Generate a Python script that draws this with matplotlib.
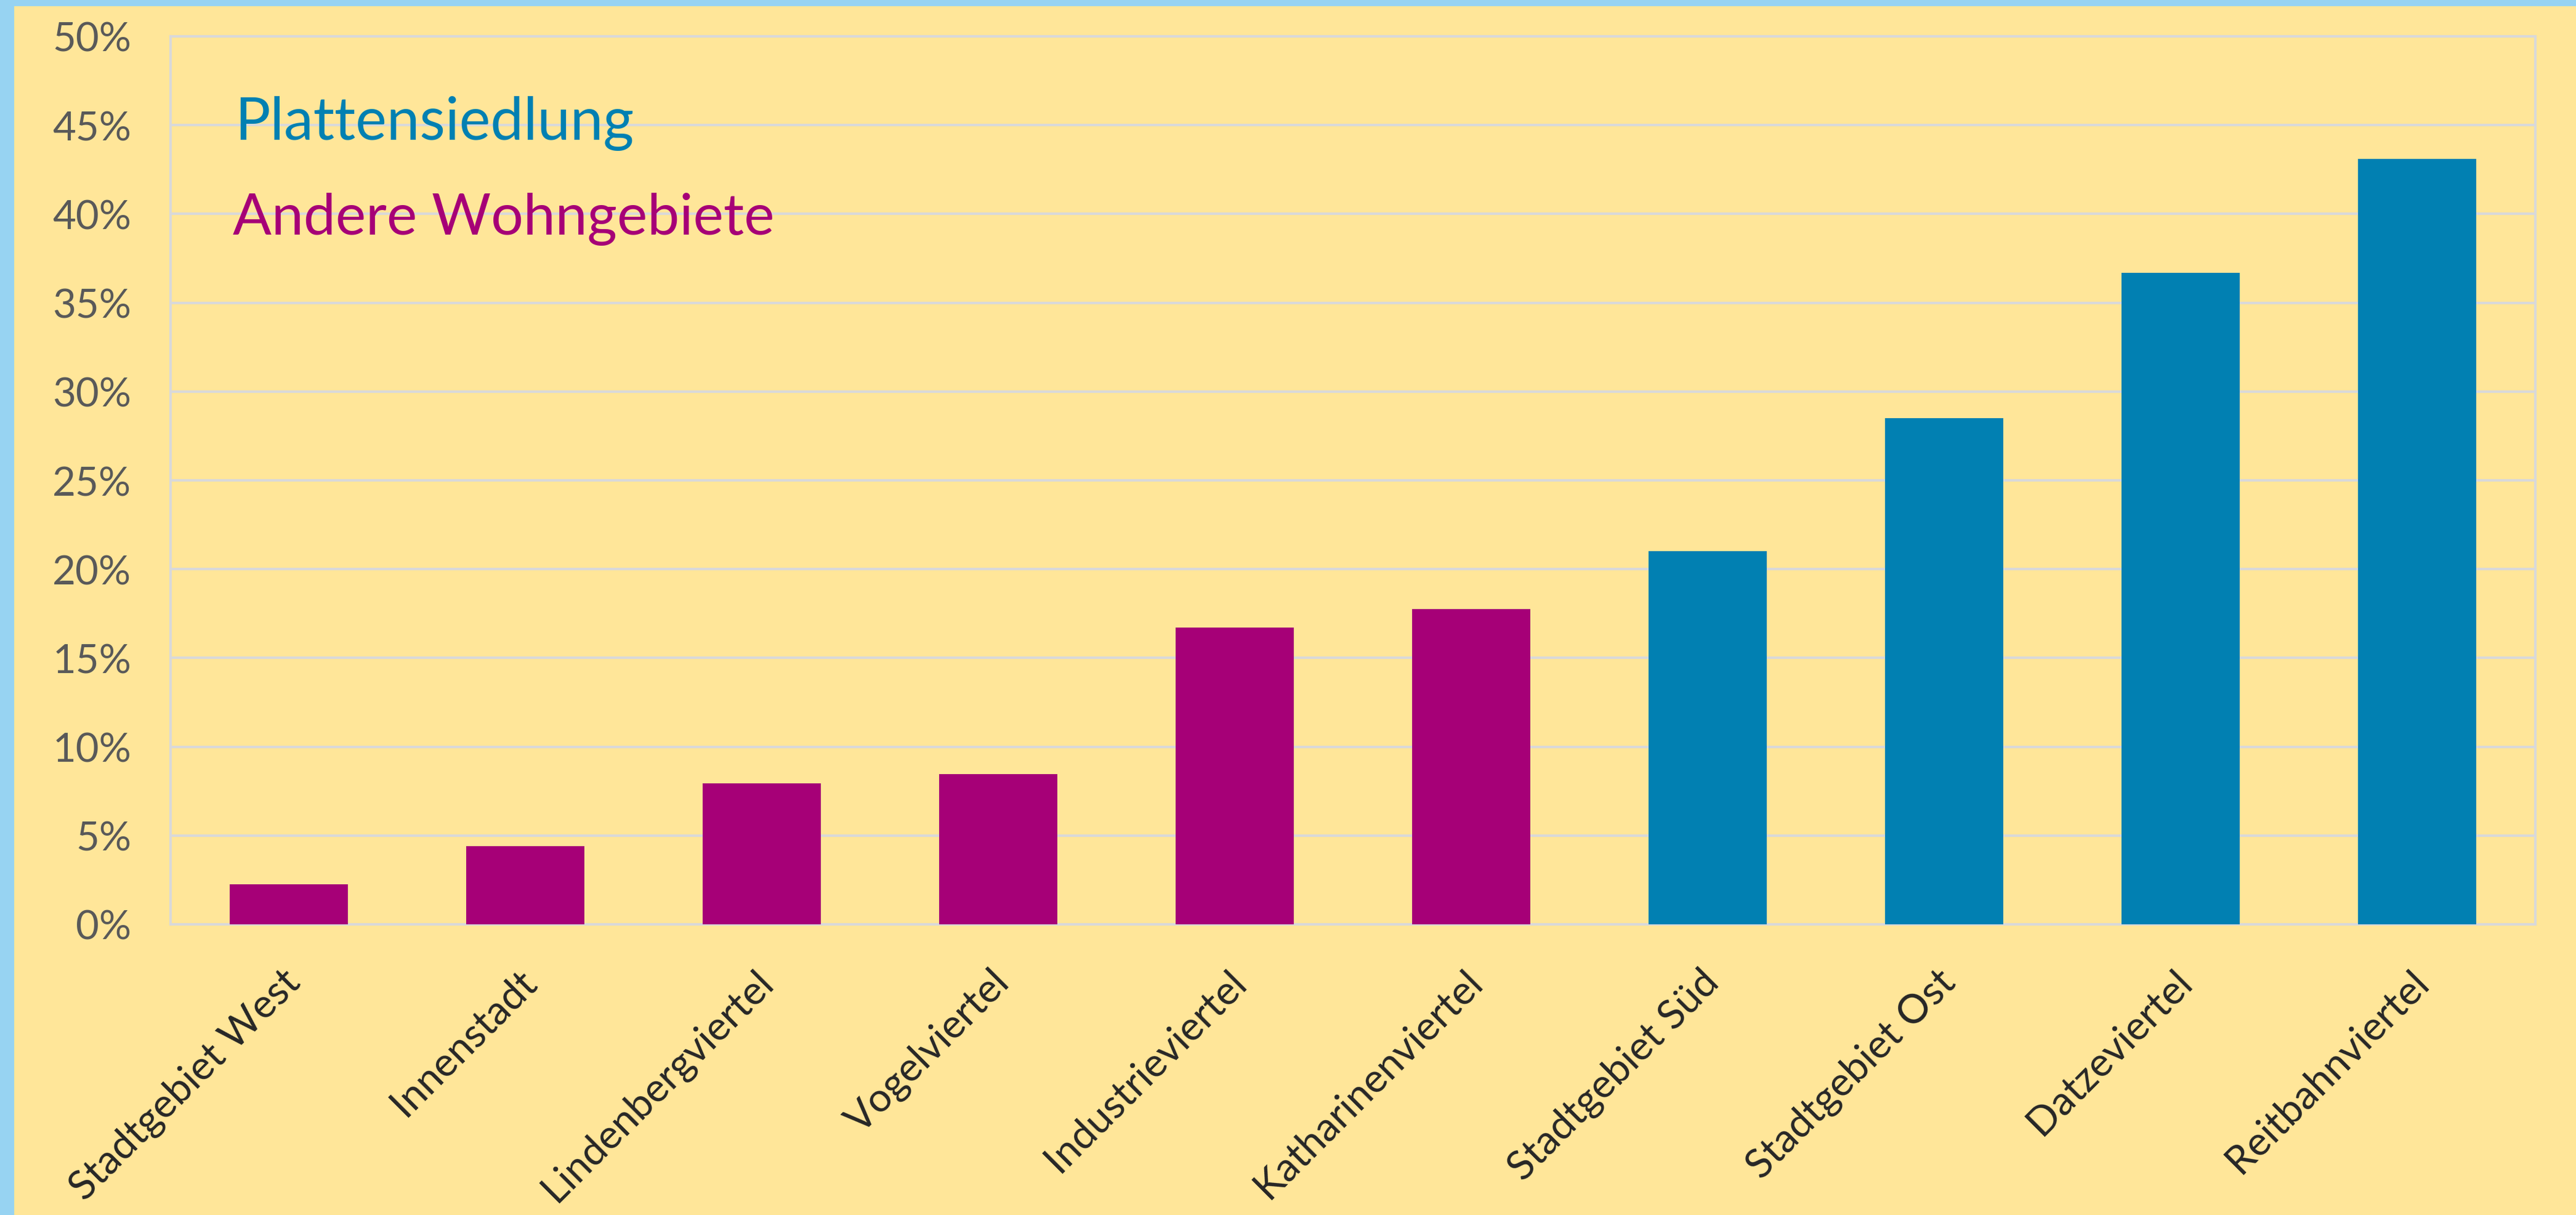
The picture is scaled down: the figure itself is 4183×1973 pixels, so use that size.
import matplotlib
matplotlib.use("Agg")
import matplotlib.pyplot as plt
import matplotlib.transforms as mtransforms
from matplotlib.patches import Rectangle
from matplotlib.ticker import MultipleLocator, FuncFormatter

# ---- data ----
categories = ["Stadtgebiet West", "Innenstadt", "Lindenbergviertel", "Vogelviertel",
              "Industrieviertel", "Katharinenviertel", "Stadtgebiet Süd",
              "Stadtgebiet Ost", "Datzeviertel", "Reitbahnviertel"]
values = [2.25, 4.4, 7.95, 8.45, 16.7, 17.75, 21.0, 28.5, 36.7, 43.1]
groups = ["andere", "andere", "andere", "andere", "andere", "andere",
          "platte", "platte", "platte", "platte"]
legend_labels = ["Plattensiedlung", "Andere Wohngebiete"]

BLUE = "#0180B2"
MAGENTA = "#A60077"
colors = {"platte": BLUE, "andere": MAGENTA}

plt.rcParams['font.family'] = ['Lato', 'DejaVu Sans']

W, H, DPI = 4183, 1974, 100
fig = plt.figure(figsize=(W / DPI, H / DPI), dpi=DPI)
fig.patch.set_facecolor("#97D3F2")

# yellow chart panel
fig.add_artist(Rectangle((23 / W, 0), 1 - 23 / W, 1 - 11 / H, transform=fig.transFigure,
                         facecolor="#FFE699", edgecolor="none", zorder=0))

left, right = 277 / W, 4117 / W
bottom, top = 1 - 1502 / H, 1 - 60 / H
ax = fig.add_axes([left, bottom, right - left, top - bottom])
ax.set_facecolor("none")

x = list(range(len(categories)))
bar_colors = [colors[g] for g in groups]
ax.bar(x, values, width=0.5, color=bar_colors, zorder=3)

ax.set_xlim(-0.5, len(categories) - 0.5)
ax.set_ylim(0, 50)
ax.yaxis.set_major_locator(MultipleLocator(5))
ax.yaxis.set_major_formatter(FuncFormatter(lambda v, p: f"{int(round(v))}%"))

grid_c = "#D9D9D9"
ax.grid(axis="y", color=grid_c, linewidth=2.9, zorder=1)
for s in ax.spines.values():
    s.set_color(grid_c)
    s.set_linewidth(2.9)

ax.tick_params(axis="y", length=0, pad=46, labelsize=47, labelcolor="#595959")
ax.tick_params(axis="x", length=0, pad=60, labelsize=47, labelcolor="#262626")
ax.set_xticks(x)
ax.set_xticklabels(categories, rotation=45, ha="right", va="center", rotation_mode="anchor")
offset = mtransforms.ScaledTranslation(0.08, 0, fig.dpi_scale_trans)
for lbl in ax.get_xticklabels():
    lbl.set_transform(lbl.get_transform() + offset)

# legend-like texts
fig.text(381 / W, 1 - 227 / H, legend_labels[0], color=BLUE, fontsize=69,
         ha="left", va="baseline")
fig.text(378 / W, 1 - 381 / H, legend_labels[1], color=MAGENTA, fontsize=67,
         ha="left", va="baseline")

fig.savefig("out.png", dpi=DPI, facecolor=fig.get_facecolor())
